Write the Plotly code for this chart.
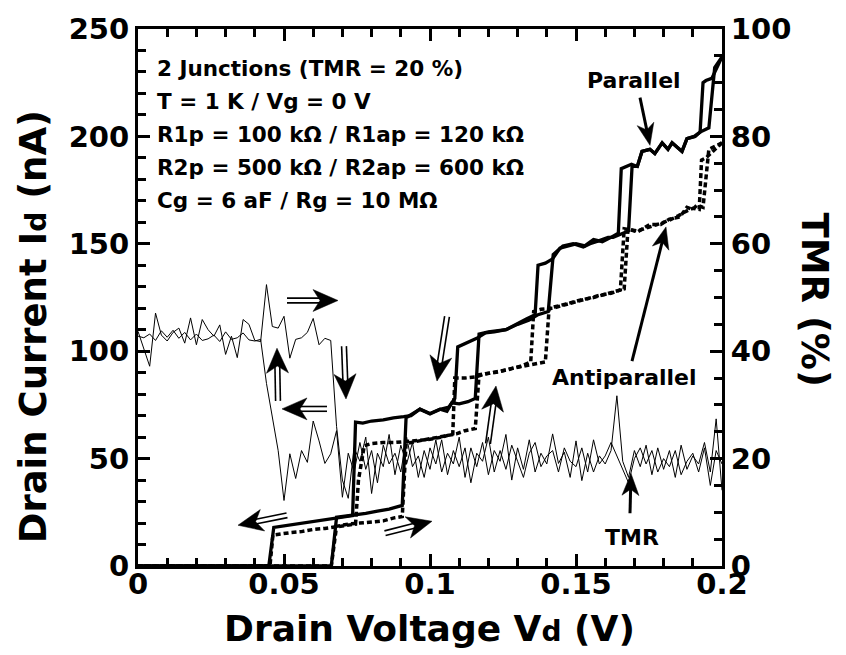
import math
import plotly.graph_objects as go

# ---------------- data ----------------
# Parallel configuration, sweep up (Vd increasing)
P_UP_V = [0.0, 0.0662, 0.068, 0.0735, 0.078, 0.082, 0.086, 0.0905, 0.0918, 0.0966, 0.100, 0.1034,
          0.1058, 0.1075, 0.110, 0.113, 0.1155, 0.1168, 0.120, 0.126, 0.130, 0.134, 0.137, 0.1405,
          0.1422, 0.1455, 0.149, 0.1525, 0.1548, 0.158, 0.161, 0.1627, 0.166, 0.168, 0.1692, 0.171,
          0.1726, 0.1753, 0.177, 0.1795, 0.1815, 0.1829, 0.1863, 0.188, 0.1908, 0.1925, 0.1955,
          0.1975, 0.200]
P_UP_I = [0, 0, 22.7, 23.6, 24.5, 25.5, 26.5, 28.2, 69, 73, 71, 73,
          72, 76, 75.5, 76.5, 78, 108, 109, 110, 112.5, 114.5, 117, 118.5,
          145, 149, 150, 148.5, 150, 151.5, 153, 153, 155, 156, 186, 186,
          193, 194, 192, 197, 194, 197, 193, 199, 200, 202, 204,
          232, 237]
# Parallel configuration, sweep down (Vd decreasing)
P_DN_V = [0.200, 0.198, 0.1965, 0.1945, 0.1935, 0.1925, 0.1905, 0.188, 0.1863, 0.1829, 0.1815,
          0.1795, 0.177, 0.1753, 0.1726, 0.171, 0.169, 0.1655, 0.1645, 0.162, 0.159, 0.156, 0.153,
          0.150, 0.147, 0.1445, 0.142, 0.1395, 0.137, 0.136, 0.133, 0.130, 0.126, 0.122, 0.119,
          0.116, 0.113, 0.1095, 0.1085, 0.1065, 0.1035, 0.100, 0.0965, 0.0935, 0.091, 0.0875,
          0.084, 0.080, 0.077, 0.0745, 0.0735, 0.070, 0.066, 0.062, 0.058, 0.054, 0.050, 0.0465,
          0.0448, 0.0]
P_DN_I = [237, 231, 227, 226, 225, 202, 200, 199, 193, 197, 194,
          197, 192, 194, 193, 186, 187, 185, 155, 153, 151, 152, 149,
          150, 149, 148, 143, 141, 140, 117, 115, 113, 110, 109, 108.5,
          106, 104, 102, 78, 74, 73, 70.8, 73, 70, 69.5, 69,
          68, 67.5, 66.5, 67, 23.5, 22.8, 22, 21, 20.5, 19.5, 18.8, 18,
          0, 0]
# Antiparallel configuration, sweep up
AP_UP_V = [0.0, 0.0662, 0.068, 0.072, 0.076, 0.080, 0.084, 0.088, 0.0905, 0.0918, 0.095, 0.099,
           0.103, 0.1065, 0.109, 0.112, 0.1155, 0.1168, 0.120, 0.124, 0.128, 0.132, 0.1365, 0.1395,
           0.1408, 0.144, 0.148, 0.152, 0.156, 0.160, 0.164, 0.1665, 0.1678, 0.171, 0.1753, 0.179,
           0.182, 0.1856, 0.188, 0.190, 0.1914, 0.1935, 0.1955, 0.200]
AP_UP_I = [0, 0, 18.5, 19.5, 20, 20.5, 21, 22.5, 23, 57, 58, 59,
           60, 61, 61.5, 63, 64, 89, 89.5, 90.5, 92, 93, 94, 95,
           120, 121, 122.5, 124, 125, 126.5, 128, 129, 157, 155.5, 159, 159,
           161.5, 162.5, 167, 166, 168, 167, 194, 197]
# Antiparallel configuration, sweep down
AP_DN_V = [0.200, 0.197, 0.1945, 0.193, 0.1922, 0.190, 0.1875, 0.185, 0.182, 0.179, 0.1753, 0.171,
           0.1665, 0.1652, 0.162, 0.158, 0.154, 0.150, 0.146, 0.142, 0.138, 0.1355, 0.1345, 0.131,
           0.127, 0.123, 0.119, 0.1155, 0.112, 0.1085, 0.1078, 0.104, 0.100, 0.096, 0.092, 0.088,
           0.084, 0.080, 0.0775, 0.0755, 0.0745, 0.072, 0.068, 0.064, 0.060, 0.056, 0.052, 0.048,
           0.0462, 0.0452, 0.0]
AP_DN_I = [197, 193, 190, 189, 166, 166.5, 165, 163, 161, 159.5, 158, 156,
           157, 128.5, 127, 126, 124.5, 123, 121.5, 120, 119.5, 118.5, 95, 93,
           91.5, 90.5, 89.5, 88, 87.5, 87.5, 61.5, 60, 59, 58.5, 58, 57.5,
           57.5, 57, 56, 40, 19.5, 19, 18.5, 17.5, 17, 16, 15.5, 14.5,
           14.4, 0, 0]
# TMR (%) on the right axis, both sweeps
TMR_V = [0.000, 0.002, 0.004, 0.006, 0.008, 0.010, 0.012, 0.014, 0.016, 0.018,
         0.020, 0.022, 0.024, 0.026, 0.028, 0.030, 0.032, 0.034, 0.036, 0.038,
         0.040, 0.042, 0.044, 0.046, 0.048, 0.050, 0.052, 0.054, 0.056, 0.058,
         0.060, 0.062, 0.064, 0.066, 0.068, 0.070, 0.072, 0.074, 0.076, 0.078,
         0.080, 0.082, 0.084, 0.086, 0.088, 0.090, 0.092, 0.094, 0.096, 0.098,
         0.100, 0.102, 0.104, 0.106, 0.108, 0.110, 0.112, 0.114, 0.116, 0.118,
         0.120, 0.122, 0.124, 0.126, 0.128, 0.130, 0.132, 0.134, 0.136, 0.138,
         0.140, 0.142, 0.144, 0.146, 0.148, 0.150, 0.152, 0.154, 0.156, 0.158,
         0.160, 0.162, 0.164, 0.166, 0.168, 0.170, 0.172, 0.174, 0.176, 0.178,
         0.180, 0.182, 0.184, 0.186, 0.188, 0.190, 0.192, 0.194, 0.196, 0.198,
         0.200]
TMR_UP = [43.7, 40.5, 37.2, 47.1, 43.0, 41.9, 43.5, 44.3, 41.5, 46.2,
          41.2, 45.9, 44.0, 42.8, 44.9, 39.4, 42.8, 38.8, 45.9, 45.0,
          42.0, 41.8, 52.4, 44.6, 44.3, 46.5, 38.7, 42.2, 42.5, 43.5,
          46.1, 41.2, 42.4, 42.0, 26.0, 16.0, 12.6, 22.0, 19.5, 24.0,
          13.5, 21.0, 18.5, 24.5, 17.0, 22.5, 19.0, 23.0, 16.5, 21.5,
          18.0, 23.5, 17.5, 21.0, 19.0, 24.0, 16.5, 22.0, 18.5, 23.0,
          17.0, 21.5, 19.5, 24.5, 16.0, 22.0, 18.0, 23.5, 17.5, 21.0,
          19.0, 24.6, 19.1, 21.2, 16.5, 23.3, 15.9, 21.0, 17.5, 20.5,
          19.0, 21.5, 31.7, 19.5, 16.5, 21.5, 18.5, 22.5, 17.0, 22.0,
          18.0, 21.5, 16.5, 22.5, 18.0, 20.5, 19.0, 23.0, 17.5, 27.4,
          14.1]
TMR_DN = [42.8, 42.5, 43.2, 42.0, 43.8, 42.6, 43.9, 42.4, 43.5, 42.1,
          43.2, 42.0, 42.3, 43.0, 41.8, 43.6, 42.2, 42.5, 43.4, 42.1,
          41.9, 42.2, 34.0, 28.0, 21.5, 12.2, 20.9, 16.3, 21.5, 19.3,
          27.0, 23.3, 19.1, 20.9, 25.2, 12.8, 21.0, 17.5, 23.0, 18.0,
          21.5, 15.5, 22.5, 19.0, 21.0, 17.5, 24.0, 18.5, 20.5, 16.5,
          22.0, 19.0, 23.5, 17.0, 21.5, 18.5, 22.0, 15.5, 21.0, 19.5,
          24.0, 17.5, 21.5, 18.0, 22.5, 19.5, 16.5, 21.0, 23.0, 18.5,
          20.5, 21.5, 17.5, 22.0, 19.5, 18.5, 22.0, 17.5, 23.5, 19.0,
          20.5, 23.0, 20.5, 18.0, 15.5, 20.0, 22.0, 19.0, 21.5, 17.5,
          20.0, 18.5, 21.5, 17.0, 19.5, 21.0, 17.5, 22.0, 15.0, 21.5,
          19.0]

X_TICKS = [0, 0.05, 0.1, 0.15, 0.2]
X_TICKTEXT = ["0", "0.05", "0.1", "0.15", "0.2"]
INFO_LINES = ["2 Junctions (TMR = 20 %)", "T = 1 K / Vg = 0 V",
              "R1p = 100 k\u03a9 / R1ap = 120 k\u03a9", "R2p = 500 k\u03a9 / R2ap = 600 k\u03a9",
              "Cg = 6 aF / Rg = 10 M\u03a9"]

# ---------------- layout geometry (pixels) ----------------
W, H = 846, 655
L, R, T, B = 138, 722, 26, 566
FONT = "DejaVu Sans"


def P(px, py):
    return (px - L) / (R - L), (B - py) / (B - T)


fig = go.Figure()
fig.add_trace(go.Scatter(x=TMR_V, y=TMR_UP, yaxis="y2", mode="lines",
                         line=dict(color="black", width=1)))
fig.add_trace(go.Scatter(x=TMR_V, y=TMR_DN, yaxis="y2", mode="lines",
                         line=dict(color="black", width=1)))
for xs, ys in [(AP_UP_V, AP_UP_I), (AP_DN_V, AP_DN_I)]:
    fig.add_trace(go.Scatter(x=xs, y=ys, mode="lines",
                             line=dict(color="black", width=3.5, dash="5px,3px")))
for xs, ys in [(P_UP_V, P_UP_I), (P_DN_V, P_DN_I)]:
    fig.add_trace(go.Scatter(x=xs, y=ys, mode="lines",
                             line=dict(color="black", width=3.3)))

shapes = []


def seg(p1, p2, w):
    x0, y0 = P(*p1)
    x1, y1 = P(*p2)
    shapes.append(dict(type="line", xref="paper", yref="paper", x0=x0, y0=y0, x1=x1, y1=y1,
                       line=dict(color="black", width=w), layer="above"))


def head(tip, u, hl, hw):
    n = (-u[1], u[0])
    bx, by = tip[0] - u[0] * hl, tip[1] - u[1] * hl
    pts = [tip, (bx + n[0] * hw, by + n[1] * hw),
           (tip[0] - u[0] * hl * 0.72, tip[1] - u[1] * hl * 0.72),
           (bx - n[0] * hw, by - n[1] * hw)]
    path = "M " + " L ".join("%.5f,%.5f" % P(*p) for p in pts) + " Z"
    shapes.append(dict(type="path", xref="paper", yref="paper", path=path,
                       fillcolor="black", line=dict(color="black", width=0.5), layer="above"))


def double_arrow(tail, tip, hl=25, hw=11, gap=2.4, lw=1.6):
    dx, dy = tip[0] - tail[0], tip[1] - tail[1]
    d = math.hypot(dx, dy)
    u = (dx / d, dy / d)
    n = (-u[1], u[0])
    end = (tip[0] - u[0] * hl * 0.75, tip[1] - u[1] * hl * 0.75)
    for s in (1, -1):
        seg((tail[0] + s * n[0] * gap, tail[1] + s * n[1] * gap),
            (end[0] + s * n[0] * gap, end[1] + s * n[1] * gap), lw)
    head(tip, u, hl, hw)


def single_arrow(tail, tip, hl=22, hw=8.5, lw=3):
    dx, dy = tip[0] - tail[0], tip[1] - tail[1]
    d = math.hypot(dx, dy)
    u = (dx / d, dy / d)
    end = (tip[0] - u[0] * hl * 0.7, tip[1] - u[1] * hl * 0.7)
    seg(tail, end, lw)
    head(tip, u, hl, hw)


double_arrow((287, 299), (338, 299))
double_arrow((344, 345), (346, 398))
double_arrow((327, 408), (282, 408))
double_arrow((278, 400), (277, 347))
double_arrow((287, 515), (238, 525))
double_arrow((385, 533), (432, 521))
double_arrow((447, 315), (437, 380))
double_arrow((488, 443), (496, 385))
single_arrow((640, 95), (650, 143))
single_arrow((632, 360), (666, 225))
single_arrow((630, 513), (631, 473))

annotations = []


def text(px, py, s, size, xanchor="center", angle=0):
    x, y = P(px, py)
    annotations.append(dict(x=x, y=y, xref="paper", yref="paper", text=s, showarrow=False,
                            xanchor=xanchor, yanchor="middle", textangle=angle,
                            font=dict(family=FONT, size=size, color="black", weight=700)))


for k, line in enumerate(INFO_LINES):
    text(155, 66 + k * 33.2, line, 21.5, xanchor="left")
text(634, 78, "Parallel", 22)
text(624, 376, "Antiparallel", 22)
text(632, 537, "TMR", 22)
text(429, 629, 'Drain Voltage V<span style="font-size:28px">d</span> (V)', 36)
text(33, 326, 'Drain Current I<span style="font-size:28px">d</span> (nA)', 37, angle=-90)
text(815, 298, "TMR (%)", 37, angle=90)

tickfont = dict(family=FONT, size=29, color="black", weight=700)
axis_common = dict(showline=True, linewidth=3, linecolor="black", ticks="inside",
                   tickwidth=2.5, tickcolor="black", ticklen=12, showgrid=False,
                   zeroline=False, tickfont=tickfont)

fig.update_layout(
    width=W, height=H, margin=dict(l=L, r=W - R, t=T, b=H - B),
    paper_bgcolor="white", plot_bgcolor="white", showlegend=False,
    xaxis=dict(range=[0, 0.2], tickmode="array", tickvals=X_TICKS, ticktext=X_TICKTEXT,
               mirror="ticks", ticklabelstandoff=-10, ticklabelposition="outside",
               minor=dict(dtick=0.01, tick0=0, ticks="inside", ticklen=8, tickwidth=2.5,
                          tickcolor="black", showgrid=False),
               **axis_common),
    yaxis=dict(range=[0, 250], dtick=50, tick0=0,
               minor=dict(dtick=10, tick0=0, ticks="inside", ticklen=8, tickwidth=2.5,
                          tickcolor="black", showgrid=False),
               **axis_common),
    yaxis2=dict(range=[0, 100], dtick=20, tick0=0, overlaying="y", side="right",
                minor=dict(dtick=5, tick0=0, ticks="inside", ticklen=8, tickwidth=2.5,
                           tickcolor="black", showgrid=False),
                **axis_common),
    shapes=shapes, annotations=annotations,
)

fig.write_html("out.html")
